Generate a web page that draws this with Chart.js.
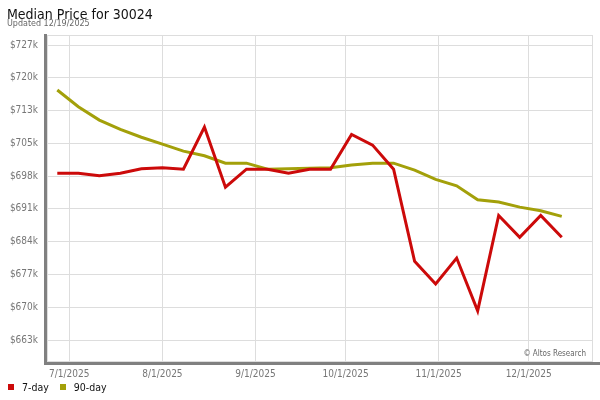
<!DOCTYPE html>
<html>
<head>
<meta charset="utf-8">
<title>Median Price for 30024</title>
<script src="https://cdn.jsdelivr.net/npm/chart.js@4.4.1/dist/chart.umd.min.js"></script>
<style>
  html, body { margin: 0; padding: 0; background: #fff; }
  #wrap { position: relative; width: 600px; height: 400px; font-family: "DejaVu Sans Condensed", "DejaVu Sans", sans-serif; }
  #myChart { position: absolute; left: 0; top: 0; }
  .title { position: absolute; left: 7px; top: 7px; font-size: 14px; line-height: 14px; color: #111; white-space: nowrap; }
  .subtitle { position: absolute; left: 7px; top: 20px; font-family: "DejaVu Sans", sans-serif; font-size: 8px; line-height: 8px; color: #666; white-space: nowrap; }
  .legend { position: absolute; left: 8px; top: 382px; font-size: 10.5px; line-height: 10.5px; color: #111; white-space: nowrap; }
  .legend span.box { display: inline-block; width: 6px; height: 6px; margin-right: 8px; vertical-align: 1px; }
  .legend span.item { margin-right: 11px; }
  .credit { position: absolute; right: 14px; top: 350px; font-size: 8px; line-height: 8px; color: #666; white-space: nowrap; }
</style>
</head>
<body>
<div id="wrap">
  <canvas id="myChart" width="600" height="400"></canvas>
  <div class="title">Median Price for 30024</div>
  <div class="subtitle">Updated 12/19/2025</div>
  <div class="credit">© Altos Research</div>
  <div class="legend">
    <span class="box" style="background:#cc0a0a"></span><span class="item">7-day</span><span class="box" style="background:#a3a00a"></span><span>90-day</span>
  </div>
</div>
<script>
// weekly points (Fridays)
const weekDates = [
  "2025-06-27", "2025-07-04", "2025-07-11", "2025-07-18", "2025-07-25",
  "2025-08-01", "2025-08-08", "2025-08-15", "2025-08-22", "2025-08-29",
  "2025-09-05", "2025-09-12", "2025-09-19", "2025-09-26", "2025-10-03",
  "2025-10-10", "2025-10-17", "2025-10-24", "2025-10-31", "2025-11-07",
  "2025-11-14", "2025-11-21", "2025-11-28", "2025-12-05", "2025-12-12"
];
const sevenDay = [
  699000, 699000, 698500, 699000, 700000,
  700200, 699900, 709000, 696000, 699900,
  699900, 699000, 699900, 699900, 707400,
  705100, 699900, 680000, 675100, 680700,
  669300, 689900, 685200, 689900, 685200
];
const ninetyDay = [
  717000, 713400, 710500, 708500, 706800,
  705300, 703800, 702800, 701200, 701200,
  699900, 700000, 700100, 700200, 700800,
  701200, 701200, 699700, 697700, 696300,
  693300, 692800, 691700, 690900, 689700
];
const monthTicks = ["2025-07-01", "2025-08-01", "2025-09-01", "2025-10-01", "2025-11-01", "2025-12-01"];
const priceTicks = [663000, 670080, 677160, 684240, 691320, 698400, 705480, 712560, 719640, 726720];

const ctx = document.getElementById("myChart");

// days since epoch, so the x axis can be a plain linear scale
const dayNum = (s) => {
  const p = s.split("-");
  return Date.UTC(+p[0], +p[1] - 1, +p[2]) / 86400000;
};
const fmtDay = (v) => {
  const d = new Date(v * 86400000);
  return (d.getUTCMonth() + 1) + "/" + d.getUTCDate() + "/" + d.getUTCFullYear();
};

const xMin = dayNum("2025-07-01") - 7.43;
const xMax = xMin + 181.84;

// frame round the plot and the thick grey axis bars
const frame = {
  id: "frame",
  beforeDatasetsDraw(chart) {
    const a = chart.chartArea;
    const c = chart.ctx;
    c.save();
    c.strokeStyle = "#dddddd";
    c.lineWidth = 1;
    c.strokeRect(a.left + 0.5, a.top + 0.5, a.right - a.left - 1, a.bottom - a.top - 1);
    c.fillStyle = "#808080";
    c.fillRect(a.left - 3, a.top - 1, 3, a.bottom - a.top + 4);
    c.fillRect(a.left - 3, a.bottom, chart.width - a.left + 3, 3);
    c.restore();
  }
};

const toPoints = (vals) => vals.map((v, i) => ({ x: dayNum(weekDates[i]), y: v }));

new Chart(ctx, {
  type: "line",
  data: {
    datasets: [
      {
        label: "7-day",
        data: toPoints(sevenDay),
        borderColor: "#cc0a0a",
        backgroundColor: "#cc0a0a",
        borderWidth: 3,
        pointRadius: 0,
        tension: 0
      },
      {
        label: "90-day",
        data: toPoints(ninetyDay),
        borderColor: "#a3a00a",
        backgroundColor: "#a3a00a",
        borderWidth: 3,
        pointRadius: 0,
        tension: 0
      }
    ]
  },
  options: {
    responsive: false,
    animation: false,
    devicePixelRatio: 1,
    layout: { padding: { left: 0, top: 35, right: 7, bottom: 14 } },
    plugins: {
      legend: { display: false },
      tooltip: { enabled: false }
    },
    scales: {
      x: {
        type: "linear",
        min: xMin,
        max: xMax,
        afterBuildTicks: (s) => { s.ticks = monthTicks.map((d) => ({ value: dayNum(d) })); },
        afterFit: (s) => { s.height = 24; },
        grid: { color: "#dddddd", drawTicks: false },
        border: { display: false },
        ticks: {
          autoSkip: false,
          maxRotation: 0,
          padding: 6,
          color: "#777777",
          font: { family: "'DejaVu Sans Condensed', 'DejaVu Sans', sans-serif", size: 10 },
          callback: (v) => fmtDay(v)
        }
      },
      y: {
        min: 658250,
        max: 728880,
        afterBuildTicks: (s) => { s.ticks = priceTicks.map((v) => ({ value: v })); },
        afterFit: (s) => { s.width = 47; },
        grid: { color: "#dddddd", drawTicks: false },
        border: { display: false },
        ticks: {
          padding: 9,
          color: "#777777",
          font: { family: "'DejaVu Sans Condensed', 'DejaVu Sans', sans-serif", size: 10 },
          callback: (v) => "$" + Math.round(v / 1000) + "k"
        }
      }
    }
  },
  plugins: [frame]
});
</script>
</body>
</html>
